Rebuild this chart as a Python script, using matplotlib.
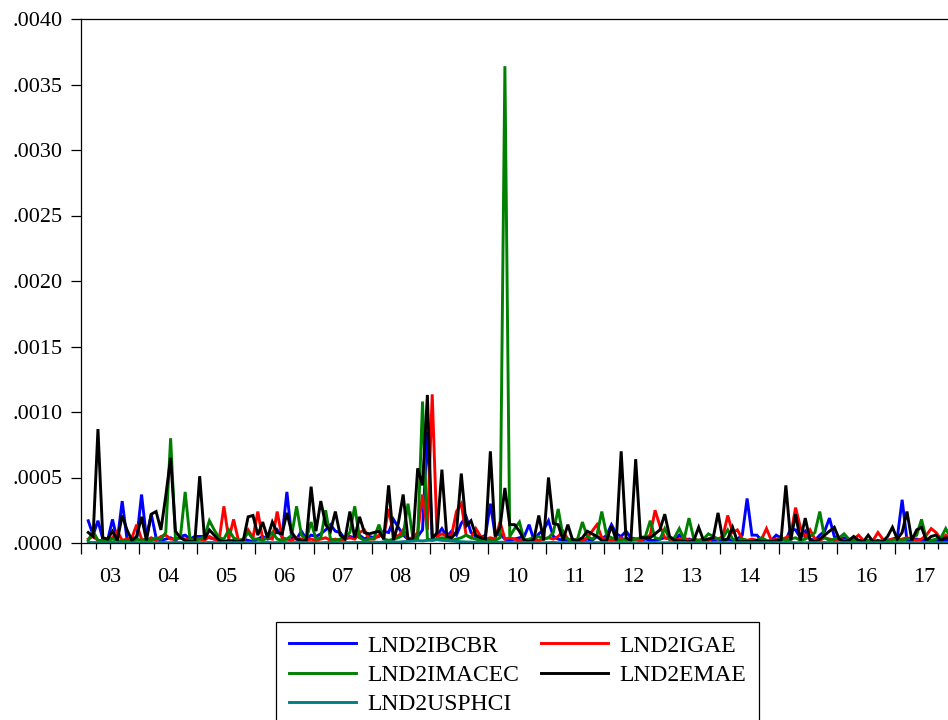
import numpy as np
import matplotlib
matplotlib.use("Agg")
import matplotlib.pyplot as plt
from matplotlib.ticker import FixedLocator, FuncFormatter

plt.rcParams['font.family'] = ['Liberation Serif', 'DejaVu Serif']

nan = np.nan

# monthly values, 2003M01 .. 2017M12, in units of 1e-4 (one row per year)
lnd2ibcbr = [
    nan, 1.7, 0.6, 1.7, 0.3, 0.2, 1.8, 0.2, 3.2, 0.3, 0.2, 0.3,
    3.7, 0.4, 2.2, 0.4, 0.2, 0.3, 0.4, 0.2, 0.5, 0.6, 0.3, 0.5,
    0.5, 0.5, 0.4, 0.3, 0.2, 0.1, 0.1, 0.2, 0.1, 0.3, 0.2, 0.1,
    0.3, 0.5, 0.3, 0.4, 1.0, 0.5, 3.9, 0.4, 0.3, 0.9, 0.3, 0.6,
    0.5, 0.7, 1.0, 1.4, 0.9, 0.8, 0.3, 0.5, 0.4, 0.6, 0.3, 0.5,
    0.4, 0.5, 0.9, 0.8, 1.8, 1.2, 0.6, 0.3, 0.4, 0.5, 1.0, 8.5,
    0.5, 0.6, 1.1, 0.5, 0.9, 0.6, 1.5, 2.0, 0.8, 0.5, 0.4, 0.6,
    3.0, 0.6, 0.7, 0.3, 0.2, 0.3, 0.4, 0.5, 1.4, 0.2, 0.7, 1.0,
    1.7, 0.5, 0.3, 0.2, 0.2, 0.3, 0.2, 0.2, 0.3, 0.2, 0.5, 0.3,
    0.6, 1.4, 0.7, 0.5, 0.9, 0.4, 0.3, 0.2, 0.3, 0.2, 0.2, 0.3,
    0.4, 0.3, 0.2, 0.6, 0.2, 0.3, 0.2, 0.2, 0.2, 0.3, 0.2, 0.3,
    0.2, 0.3, 0.2, 0.3, 0.6, 3.4, 0.6, 0.6, 0.2, 0.1, 0.2, 0.6,
    0.4, 0.2, 1.1, 1.0, 0.4, 0.9, 0.3, 0.2, 0.6, 0.9, 1.9, 0.5,
    0.3, 0.4, 0.2, 0.1, 0.2, 0.1, 0.2, 0.1, 0.2, 0.1, 0.2, 0.3,
    0.4, 3.3, 0.2, 0.2, 0.3, 0.2, 0.2, 0.1, 0.2, 0.1, 0.2, 0.1,
]

lnd2igae = [
    nan, 0.3, 0.5, 0.2, 0.2, 0.3, 0.4, 0.9, 0.2, 0.3, 0.4, 1.4,
    0.3, 0.2, 0.4, 0.2, 0.5, 0.6, 0.3, 0.3, 0.4, 0.3, 0.2, 0.3,
    0.3, 0.2, 0.5, 0.3, 0.2, 2.8, 0.3, 1.8, 0.2, 0.1, 1.0, 0.4,
    2.4, 0.3, 0.4, 0.3, 2.4, 0.4, 0.3, 0.2, 0.4, 0.3, 0.2, 0.3,
    0.2, 0.3, 0.4, 0.2, 0.3, 0.2, 0.3, 0.4, 0.3, 0.8, 1.0, 0.3,
    0.3, 0.6, 0.5, 2.6, 0.7, 0.5, 1.0, 0.3, 0.4, 0.8, 3.7, 1.0,
    11.35, 0.5, 0.7, 0.5, 0.6, 2.4, 3.0, 0.6, 0.4, 1.1, 0.5, 0.3,
    0.4, 0.3, 1.6, 0.3, 0.4, 0.3, 0.2, 0.3, 0.2, 0.3, 0.2, 0.3,
    0.4, 0.3, 0.5, 0.9, 0.3, 0.2, 0.3, 0.2, 0.4, 0.9, 1.4, 0.4,
    0.3, 0.2, 0.3, 0.4, 0.2, 0.3, 0.3, 0.2, 0.4, 0.6, 2.5, 1.3,
    0.4, 0.3, 0.2, 0.3, 0.4, 0.2, 0.3, 0.2, 0.3, 0.2, 0.4, 0.3,
    0.5, 2.1, 0.8, 1.0, 0.3, 0.2, 0.3, 0.2, 0.3, 1.1, 0.2, 0.3,
    0.3, 0.4, 0.6, 2.7, 1.2, 0.4, 1.0, 0.3, 0.2, 0.4, 0.3, 0.2,
    0.3, 0.2, 0.2, 0.3, 0.6, 0.2, 0.2, 0.2, 0.8, 0.3, 0.2, 0.3,
    0.2, 0.3, 0.4, 0.3, 0.2, 0.3, 0.6, 1.1, 0.8, 0.3, 0.6, 0.3,
]

lnd2imacec = [
    nan, 0.2, 0.9, 0.2, 0.1, 0.2, 0.3, 0.2, 0.1, 0.2, 0.1, 0.3,
    0.2, 0.3, 0.2, 0.4, 0.3, 0.8, 8.0, 0.3, 0.4, 3.9, 0.3, 0.2,
    0.3, 0.5, 1.7, 1.0, 0.4, 0.3, 1.0, 0.4, 0.2, 0.3, 0.8, 0.3,
    0.3, 0.2, 0.4, 0.8, 0.3, 0.2, 0.3, 0.6, 2.8, 0.6, 0.3, 1.6,
    0.3, 0.4, 2.5, 0.3, 0.2, 0.3, 0.4, 0.8, 2.8, 0.4, 0.2, 0.3,
    0.4, 1.4, 0.3, 0.2, 0.3, 0.4, 0.6, 3.0, 0.4, 0.3, 10.8, 0.3,
    0.2, 0.3, 0.4, 0.3, 0.2, 0.3, 0.4, 0.6, 0.4, 0.3, 0.2, 0.3,
    0.2, 0.2, 0.4, 36.4, 0.5, 1.1, 1.6, 0.2, 0.3, 0.4, 0.5, 0.3,
    0.4, 0.8, 2.6, 0.5, 0.3, 0.2, 0.3, 1.6, 0.5, 0.3, 0.6, 2.4,
    0.6, 0.4, 0.3, 0.2, 0.3, 0.2, 0.3, 0.4, 0.5, 1.7, 0.4, 0.3,
    1.1, 0.3, 0.4, 1.1, 0.3, 1.9, 0.3, 0.2, 0.3, 0.7, 0.5, 0.3,
    0.4, 1.0, 0.3, 0.2, 0.3, 0.2, 0.1, 0.2, 0.4, 0.2, 0.1, 0.2,
    0.3, 0.2, 0.3, 0.4, 0.2, 0.3, 0.5, 0.8, 2.4, 0.4, 0.2, 0.3,
    0.4, 0.7, 0.3, 0.2, 0.1, 0.2, 0.1, 0.2, 0.1, 0.2, 0.1, 0.2,
    0.3, 0.2, 0.3, 0.4, 0.6, 1.8, 0.3, 0.2, 0.3, 0.4, 1.1, 0.4,
]

lnd2emae = [
    nan, 0.8, 0.5, 8.7, 0.4, 0.3, 0.9, 0.2, 2.1, 1.0, 0.2, 0.5,
    2.0, 0.2, 2.2, 2.4, 1.0, 3.6, 6.5, 0.9, 0.4, 0.2, 0.1, 0.1,
    5.1, 0.3, 1.0, 0.6, 0.2, 0.1, 0.2, 0.1, 0.1, 0.2, 2.0, 2.1,
    0.6, 1.6, 0.4, 1.6, 0.8, 0.7, 2.3, 0.8, 0.3, 0.2, 0.2, 4.3,
    0.9, 3.2, 1.4, 0.9, 2.4, 0.6, 0.3, 2.4, 0.4, 2.0, 0.8, 0.7,
    0.8, 0.9, 0.3, 4.4, 0.2, 1.5, 3.7, 0.3, 0.2, 5.7, 4.4, 11.3,
    0.3, 0.8, 5.6, 0.5, 0.4, 0.8, 5.3, 1.3, 1.7, 0.6, 0.4, 0.3,
    7.0, 0.5, 1.2, 4.2, 1.4, 1.4, 0.9, 0.2, 0.1, 0.3, 2.1, 0.2,
    5.0, 1.5, 1.4, 0.2, 1.4, 0.2, 0.2, 0.4, 0.9, 0.7, 0.5, 0.2,
    0.2, 1.3, 0.2, 7.0, 0.4, 0.2, 6.4, 0.4, 0.4, 0.4, 0.7, 1.0,
    2.2, 0.5, 0.2, 0.2, 0.1, 0.1, 0.2, 1.2, 0.2, 0.3, 0.4, 2.3,
    0.2, 0.3, 1.2, 0.1, 0.1, 0.1, 0.1, 0.2, 0.1, 0.1, 0.1, 0.2,
    0.2, 4.4, 0.2, 2.2, 0.2, 1.9, 0.2, 0.1, 0.3, 0.6, 0.9, 1.2,
    0.3, 0.1, 0.2, 0.5, 0.2, 0.1, 0.6, 0.1, 0.1, 0.1, 0.5, 1.2,
    0.3, 0.8, 2.4, 0.2, 1.0, 1.2, 0.2, 0.5, 0.6, 0.2, 0.4, 0.3,
]

lnd2usphci = [
    nan, 0.05, 0.03, 0.04, 0.02, 0.03, 0.05, 0.02, 0.03, 0.04, 0.02, 0.03,
    0.02, 0.04, 0.03, 0.02, 0.05, 0.03, 0.02, 0.04, 0.03, 0.02, 0.03, 0.04,
    0.03, 0.02, 0.04, 0.03, 0.02, 0.03, 0.05, 0.02, 0.03, 0.02, 0.04, 0.03,
    0.02, 0.03, 0.04, 0.02, 0.03, 0.05, 0.03, 0.02, 0.04, 0.03, 0.02, 0.03,
    0.04, 0.02, 0.03, 0.05, 0.03, 0.02, 0.04, 0.03, 0.05, 0.04, 0.06, 0.05,
    0.07, 0.05, 0.08, 0.06, 0.09, 0.07, 0.10, 0.12, 0.15, 0.18, 0.16, 0.20,
    0.22, 0.25, 0.20, 0.18, 0.15, 0.12, 0.10, 0.08, 0.07, 0.06, 0.05, 0.06,
    0.05, 0.04, 0.06, 0.05, 0.04, 0.03, 0.05, 0.04, 0.03, 0.04, 0.03, 0.02,
    0.03, 0.04, 0.02, 0.03, 0.04, 0.03, 0.02, 0.03, 0.04, 0.02, 0.03, 0.02,
    0.03, 0.02, 0.04, 0.03, 0.02, 0.03, 0.02, 0.04, 0.03, 0.02, 0.03, 0.02,
    0.02, 0.03, 0.02, 0.03, 0.04, 0.02, 0.03, 0.02, 0.03, 0.02, 0.04, 0.03,
    0.05, 0.03, 0.02, 0.03, 0.02, 0.03, 0.02, 0.03, 0.02, 0.03, 0.02, 0.03,
    0.02, 0.03, 0.04, 0.02, 0.03, 0.02, 0.03, 0.02, 0.03, 0.04, 0.02, 0.03,
    0.03, 0.02, 0.03, 0.02, 0.03, 0.02, 0.03, 0.02, 0.03, 0.02, 0.03, 0.02,
    0.02, 0.03, 0.02, 0.03, 0.02, 0.03, 0.04, 0.02, 0.03, 0.02, 0.03, 0.02,
]

year_labels = ['03', '04', '05', '06', '07', '08', '09', '10',
               '11', '12', '13', '14', '15', '16', '17']

series = [
    ('LND2IBCBR', lnd2ibcbr, '#0000ff'),
    ('LND2IGAE', lnd2igae, '#ff0000'),
    ('LND2IMACEC', lnd2imacec, '#008000'),
    ('LND2EMAE', lnd2emae, '#000000'),
    ('LND2USPHCI', lnd2usphci, '#008080'),
]

fig = plt.figure(figsize=(9.48, 7.2), dpi=100)
# axes runs a little past the right edge, as in the cropped original
ax = fig.add_axes([81 / 948, 177 / 720, 872 / 948, 524 / 720])

months = np.arange(len(lnd2emae))
lines = {}
for name, vals, col in series:
    ln, = ax.plot(months, np.array(vals) * 1e-4, color=col, lw=2.1,
                  solid_joinstyle='miter', label=name)
    lines[name] = ln

n_years = len(year_labels)
ax.set_xlim(-0.5, 12 * n_years - 0.5)
ax.set_ylim(0, 0.004)

for s in ax.spines.values():
    s.set_linewidth(0.9)

ax.yaxis.set_major_locator(FixedLocator(np.arange(0, 0.00401, 0.0005)))
ax.yaxis.set_major_formatter(FuncFormatter(lambda v, p: f"{v:.4f}".lstrip('0')))
ax.tick_params(axis='y', direction='out', length=7, width=0.9, pad=6,
               labelsize=16)

ax.xaxis.set_major_locator(FixedLocator(np.arange(n_years + 1) * 12 - 0.5))
ax.xaxis.set_minor_locator(FixedLocator(
    [12 * k + q - 0.5 for k in range(n_years) for q in (3, 6, 9)]))
ax.tick_params(axis='x', which='major', direction='out', length=8, width=0.9,
               labelbottom=False)
ax.tick_params(axis='x', which='minor', direction='out', length=4, width=0.9)

sec = ax.secondary_xaxis('bottom')
sec.set_xticks(np.arange(n_years) * 12 + 5.5)
sec.set_xticklabels(year_labels)
sec.tick_params(length=0, pad=18, labelsize=16)
sec.spines['bottom'].set_visible(False)

order = ['LND2IBCBR', 'LND2IMACEC', 'LND2USPHCI', 'LND2IGAE', 'LND2EMAE']
leg = fig.legend([lines[k] for k in order], order, ncol=2,
                 loc='upper left', bbox_to_anchor=(276 / 948, 1 - 622 / 720),
                 bbox_transform=fig.transFigure, borderaxespad=0,
                 fancybox=False, framealpha=1, edgecolor='black',
                 fontsize=17, handlelength=2.85, handletextpad=0.47,
                 columnspacing=0.9, labelspacing=0.33, borderpad=0.55)
leg.get_frame().set_linewidth(0.9)

fig.savefig('out.png', dpi=100)
